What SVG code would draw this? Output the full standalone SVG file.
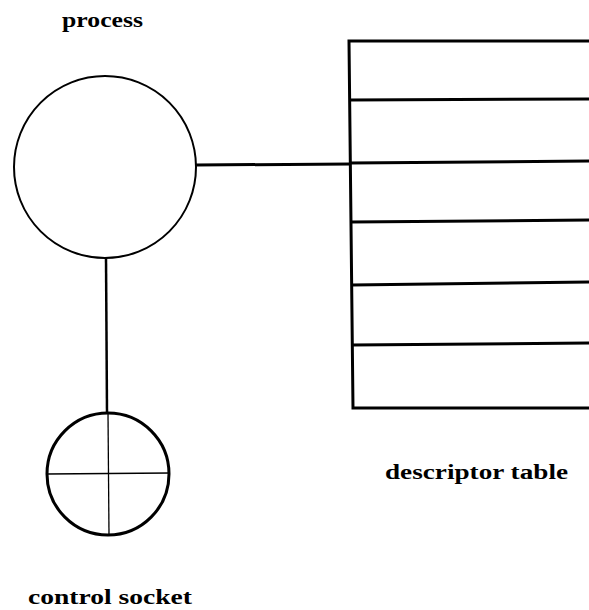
<svg xmlns="http://www.w3.org/2000/svg" width="589" height="610" viewBox="0 0 589 610">
<style>
.lbl{font-family:"Liberation Serif","DejaVu Serif",serif;font-weight:bold;font-size:20px;fill:#000}
.shape{fill:none;stroke:#000;stroke-width:2}
.thin{fill:none;stroke:#000;stroke-width:1.3}
.row{fill:none;stroke:#000;stroke-width:3}
</style>
<rect width="589" height="610" fill="#fff"/>
<g id="connectors">
<line x1="196" y1="165" x2="351" y2="164" stroke="#000" stroke-width="3"/>
<line x1="106" y1="258" x2="107" y2="413" stroke="#000" stroke-width="2.5"/>
</g>
<g id="process">
<circle class="shape" cx="105" cy="167" r="91"/>
<text class="lbl" x="62" y="27" textLength="81" lengthAdjust="spacingAndGlyphs">process</text>
</g>
<g id="descriptor-table">
<path class="row" d="M589 41 H349 L353 408 H589"/>
<line class="row" x1="350" y1="100" x2="589" y2="99"/>
<line class="row" x1="350" y1="163" x2="589" y2="161"/>
<line class="row" x1="351" y1="222" x2="589" y2="220"/>
<line class="row" x1="352" y1="285" x2="589" y2="282"/>
<line class="row" x1="352" y1="345" x2="589" y2="343"/>
<text class="lbl" x="385" y="479" textLength="183" lengthAdjust="spacingAndGlyphs">descriptor table</text>
</g>
<g id="control-socket">
<circle cx="108" cy="474" r="61" fill="none" stroke="#000" stroke-width="3"/>
<line class="thin" x1="47" y1="474" x2="170" y2="473"/>
<line class="thin" x1="108" y1="413" x2="109" y2="535"/>
<text class="lbl" x="28" y="604" textLength="164" lengthAdjust="spacingAndGlyphs">control socket</text>
</g>
</svg>
